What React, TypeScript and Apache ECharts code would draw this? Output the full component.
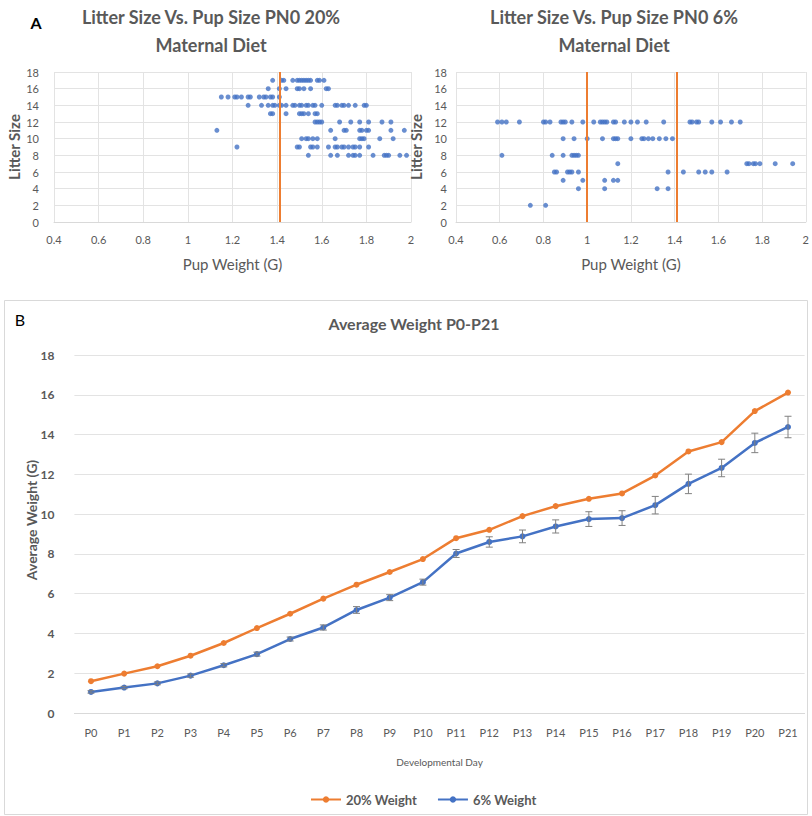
import React, { useEffect, useRef } from "react";
import * as echarts from "echarts";

// ---- Panel A: litter size vs pup weight (each row: litter size, pup weights) ----
const rows20: [number, number[]][] = [
  [17, [1.38, 1.42, 1.43, 1.47, 1.49, 1.5, 1.51, 1.52, 1.53, 1.54, 1.55, 1.58, 1.59, 1.61]],
  [16, [1.36, 1.41, 1.44, 1.49, 1.5, 1.52, 1.55, 1.62, 1.63]],
  [15, [1.15, 1.18, 1.21, 1.22, 1.24, 1.27, 1.28, 1.32, 1.34, 1.35, 1.37, 1.38, 1.41]],
  [14, [1.27, 1.33, 1.36, 1.38, 1.39, 1.41, 1.42, 1.44, 1.47, 1.48, 1.5, 1.51, 1.53, 1.54, 1.56, 1.57, 1.6, 1.66, 1.67, 1.69, 1.7, 1.72, 1.75, 1.79, 1.8]],
  [13, [1.37, 1.38, 1.44, 1.5, 1.51, 1.52, 1.54, 1.57, 1.58]],
  [12, [1.57, 1.58, 1.59, 1.6, 1.68, 1.73, 1.77, 1.81, 1.87, 1.91]],
  [11, [1.13, 1.64, 1.7, 1.71, 1.77, 1.78, 1.8, 1.81, 1.91, 1.97]],
  [10, [1.51, 1.53, 1.54, 1.56, 1.58, 1.66, 1.77, 1.78, 1.79, 1.86, 1.92]],
  [9, [1.22, 1.49, 1.5, 1.55, 1.56, 1.58, 1.63, 1.66, 1.67, 1.69, 1.7, 1.72, 1.74, 1.75, 1.77, 1.81]],
  [8, [1.54, 1.64, 1.67, 1.72, 1.74, 1.75, 1.77, 1.83, 1.88, 1.89, 1.9, 1.95, 1.98]],
];
const rows6: [number, number[]][] = [
  [12, [0.59, 0.61, 0.63, 0.69, 0.8, 0.81, 0.83, 0.88, 0.89, 0.9, 0.93, 0.98, 1.03, 1.06, 1.07, 1.08, 1.09, 1.12, 1.13, 1.17, 1.2, 1.23, 1.27, 1.35, 1.47, 1.48, 1.5, 1.51, 1.57, 1.61, 1.66, 1.7]],
  [10, [0.89, 0.94, 1.0, 1.07, 1.12, 1.13, 1.14, 1.2, 1.25, 1.26, 1.28, 1.3, 1.33, 1.36, 1.39]],
  [8, [0.61, 0.84, 0.89, 0.93, 0.94, 0.95, 0.96]],
  [7, [1.14, 1.73, 1.74, 1.76, 1.77, 1.79, 1.86, 1.94]],
  [6, [0.85, 0.86, 0.91, 0.92, 0.93, 0.96, 1.37, 1.44, 1.51, 1.54, 1.57, 1.64]],
  [5, [0.89, 0.98, 1.08, 1.12, 1.14]],
  [4, [0.96, 1.08, 1.32, 1.37]],
  [2, [0.74, 0.81]],
];
const cutoff20 = [1.41];
const cutoff6 = [1.0, 1.41];

// ---- Panel B: average weight ----
const days = ["P0", "P1", "P2", "P3", "P4", "P5", "P6", "P7", "P8", "P9", "P10", "P11", "P12", "P13", "P14", "P15", "P16", "P17", "P18", "P19", "P20", "P21"];
const weight20 = [1.6, 1.98, 2.35, 2.88, 3.52, 4.27, 4.99, 5.75, 6.45, 7.09, 7.74, 8.79, 9.21, 9.9, 10.4, 10.77, 11.04, 11.94, 13.15, 13.62, 15.18, 16.11];
const weight6 = [1.06, 1.28, 1.49, 1.88, 2.4, 2.96, 3.72, 4.3, 5.18, 5.8, 6.58, 8.02, 8.6, 8.88, 9.38, 9.75, 9.8, 10.45, 11.52, 12.32, 13.58, 14.38];
const err6 = [0.06, 0.06, 0.07, 0.08, 0.08, 0.1, 0.1, 0.13, 0.17, 0.15, 0.15, 0.2, 0.26, 0.32, 0.33, 0.37, 0.37, 0.44, 0.49, 0.44, 0.49, 0.54];

const FONT = "Lato";
const GREY = "#595959";
const ORANGE = "#ED7D31";
const BLUE = "#4472C4";

function flatten(rows: [number, number[]][]) {
  const out: number[][] = [];
  rows.forEach(([y, xs]) => xs.forEach((x) => out.push([x, y])));
  return out;
}

function scatterAxes(gi: number, yMargin: number, yGap: number) {
  return {
    x: {
      type: "value", gridIndex: gi, min: 0.4, max: 2, interval: 0.2,
      axisLine: { show: true, lineStyle: { color: "#D9D9D9" } },
      axisTick: { show: false },
      splitLine: { show: true, lineStyle: { color: "#E3E3E3" } },
      axisLabel: { color: GREY, fontSize: 11, fontFamily: FONT, margin: 12, formatter: (v: number) => String(+v.toFixed(1)) },
      name: "Pup Weight (G)", nameLocation: "middle", nameGap: 34,
      nameTextStyle: { color: GREY, fontSize: 15, fontFamily: FONT },
    },
    y: {
      type: "value", gridIndex: gi, min: 0, max: 18, interval: 2,
      axisLine: { show: false }, axisTick: { show: false },
      splitLine: { show: true, lineStyle: { color: "#E3E3E3" } },
      axisLabel: { color: GREY, fontSize: 11, fontFamily: FONT, margin: yMargin },
      name: "Litter Size", nameLocation: "middle", nameGap: yGap,
      nameTextStyle: { color: GREY, fontSize: 15, fontFamily: FONT, fontWeight: "bold" },
    },
  };
}

export default function App() {
  const ref = useRef<HTMLDivElement>(null);
  useEffect(() => {
    document.body.style.margin = "0";
    const chart = echarts.init(ref.current!, null, { renderer: "svg" });
    const a1 = scatterAxes(0, 15, 33);
    const a2 = scatterAxes(1, 9, 33);
    const txt = (text: string, x: number, y: number, size: number, color: string, weight = "normal", rotation = 0) => ({
      type: "text", x, y, rotation,
      style: { text, fill: color, fontSize: size, fontFamily: FONT, fontWeight: weight, align: "center", verticalAlign: "middle", textAlign: "center", textVerticalAlign: "middle" },
    });
    const mark = (xs: number[]) => ({
      silent: true, symbol: "none", label: { show: false },
      lineStyle: { color: ORANGE, width: 2, type: "solid" },
      data: xs.map((x) => ({ xAxis: x })),
    });
    chart.setOption({
      animation: false,
      textStyle: { fontFamily: FONT },
      grid: [
        { left: 54, top: 72, width: 357, height: 150 },
        { left: 456, top: 72, width: 360, height: 150 },
        { left: 74.4, top: 355, width: 730.2, height: 358 },
      ],
      xAxis: [
        a1.x, a2.x,
        {
          type: "category", gridIndex: 2, data: days, boundaryGap: true,
          axisLine: { show: true, lineStyle: { color: "#D9D9D9" } },
          axisTick: { show: false },
          axisLabel: { color: GREY, fontSize: 11, fontFamily: FONT, margin: 14, interval: 0 },
          name: "Developmental Day", nameLocation: "middle", nameGap: 44,
          nameTextStyle: { color: GREY, fontSize: 10, fontFamily: FONT },
        },
      ],
      yAxis: [
        a1.y, a2.y,
        {
          type: "value", gridIndex: 2, min: 0, max: 18, interval: 2,
          axisLine: { show: false }, axisTick: { show: false },
          splitLine: { show: true, lineStyle: { color: "#E3E3E3" } },
          axisLabel: { color: GREY, fontSize: 12, fontFamily: FONT, fontWeight: "bold", margin: 20 },
        },
      ],
      legend: {
        data: ["20% Weight", "6% Weight"], left: 305, top: 788,
        itemWidth: 30, itemHeight: 8, itemGap: 20,
        textStyle: { color: GREY, fontSize: 13, fontFamily: FONT, fontWeight: "bold" },
      },
      series: [
        {
          type: "scatter", xAxisIndex: 0, yAxisIndex: 0, data: flatten(rows20),
          symbol: "circle", symbolSize: 5, itemStyle: { color: BLUE }, markLine: mark(cutoff20),
        },
        {
          type: "scatter", xAxisIndex: 1, yAxisIndex: 1, data: flatten(rows6),
          symbol: "circle", symbolSize: 5, itemStyle: { color: BLUE }, markLine: mark(cutoff6),
        },
        {
          name: "20% Weight", type: "line", xAxisIndex: 2, yAxisIndex: 2, data: weight20,
          symbol: "circle", symbolSize: 6, itemStyle: { color: ORANGE }, lineStyle: { color: ORANGE, width: 2.5 },
        },
        {
          name: "6% Weight", type: "line", xAxisIndex: 2, yAxisIndex: 2, data: weight6,
          symbol: "circle", symbolSize: 6, itemStyle: { color: BLUE }, lineStyle: { color: BLUE, width: 2.5 },
        },
        {
          type: "custom", xAxisIndex: 2, yAxisIndex: 2, z: 5,
          data: days.map((_, i) => [i, weight6[i] - err6[i], weight6[i] + err6[i]]),
          encode: { x: 0, y: [1, 2] },
          renderItem: (params: any, api: any) => {
            const lo = api.coord([api.value(0), api.value(1)]);
            const hi = api.coord([api.value(0), api.value(2)]);
            const w = 3.5;
            const style = { stroke: "#808080", lineWidth: 1 };
            return {
              type: "group",
              children: [
                { type: "line", shape: { x1: lo[0], y1: lo[1], x2: hi[0], y2: hi[1] }, style },
                { type: "line", shape: { x1: lo[0] - w, y1: lo[1], x2: lo[0] + w, y2: lo[1] }, style },
                { type: "line", shape: { x1: hi[0] - w, y1: hi[1], x2: hi[0] + w, y2: hi[1] }, style },
              ],
            };
          },
        },
      ],
      graphic: [
        txt("A", 36, 22, 16, "#000", "bold"),
        txt("Litter Size Vs. Pup Size PN0 20%", 211, 17, 18, GREY, "bold"),
        txt("Maternal Diet", 211, 45, 18, GREY, "bold"),
        txt("Litter Size Vs. Pup Size PN0 6%", 614, 17, 18, GREY, "bold"),
        txt("Maternal Diet", 614, 45, 18, GREY, "bold"),
        {
          type: "rect", shape: { x: 4.5, y: 300.5, width: 803, height: 514 },
          style: { fill: "none", stroke: "#D9D9D9", lineWidth: 1 }, z: -1,
        },
        txt("B", 20, 319, 16, "#000"),
        txt("Average Weight P0-P21", 414, 323, 16, GREY, "bold"),
        txt("Average Weight (G)", 31, 520, 14, GREY, "bold", Math.PI / 2),
      ],
    });
    return () => chart.dispose();
  }, []);
  return <div ref={ref} style={{ width: 812, height: 816 }} />;
}
